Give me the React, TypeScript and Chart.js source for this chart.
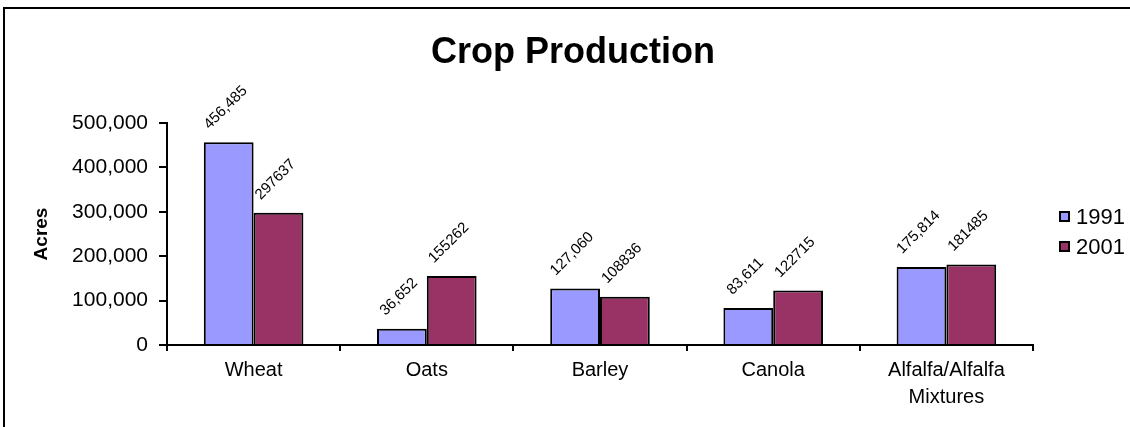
import React, { useEffect, useRef } from 'react';
import { Chart, registerables } from 'chart.js';

Chart.register(...registerables);

const chartTitle = 'Crop Production';
const yAxisTitle = 'Acres';
const categories: (string | string[])[] = ['Wheat', 'Oats', 'Barley', 'Canola', ['Alfalfa/Alfalfa', 'Mixtures']];
const seriesNames = ['1991', '2001'];
const acres1991 = [456485, 36652, 127060, 83611, 175814];
const acres2001 = [297637, 155262, 108836, 122715, 181485];
const labelUsesCommas = [true, false];
const seriesColors = ['#9999FF', '#993366'];
const yMin = 0;
const yMax = 500000;
const yStep = 100000;

const FONT = '"Liberation Sans", Arial, sans-serif';
const W = 1130;
const H = 427;

const fmt = (v: number) => v.toLocaleString('en-US');

const decorPlugin = {
  id: 'decor',
  afterDraw(chart: any) {
    const ctx = chart.ctx as CanvasRenderingContext2D;
    ctx.save();
    // outer frame (left + top edges visible)
    ctx.strokeStyle = '#000';
    ctx.lineWidth = 2;
    ctx.beginPath();
    ctx.moveTo(4, H + 2);
    ctx.lineTo(4, 8);
    ctx.lineTo(W + 2, 8);
    ctx.stroke();

    // title
    ctx.fillStyle = '#000';
    ctx.font = `bold 36px ${FONT}`;
    ctx.textAlign = 'center';
    ctx.textBaseline = 'alphabetic';
    ctx.fillText(chartTitle, 573, 63);

    // legend
    ctx.font = `22px ${FONT}`;
    ctx.textAlign = 'left';
    ctx.textBaseline = 'middle';
    seriesNames.forEach((name, i) => {
      const cy = 217 + i * 30;
      ctx.fillStyle = seriesColors[i];
      ctx.fillRect(1060, cy - 5, 9, 9);
      ctx.strokeStyle = '#000';
      ctx.lineWidth = 2;
      ctx.strokeRect(1060, cy - 5, 9, 9);
      ctx.fillStyle = '#000';
      ctx.fillText(name, 1076, cy + 1);
    });

    // data labels, rotated 45 degrees
    ctx.font = `15px ${FONT}`;
    ctx.textAlign = 'center';
    ctx.textBaseline = 'middle';
    chart.data.datasets.forEach((ds: any, di: number) => {
      const meta = chart.getDatasetMeta(di);
      meta.data.forEach((el: any, i: number) => {
        const v = ds.data[i] as number;
        const txt = labelUsesCommas[di] ? fmt(v) : String(v);
        const w = ctx.measureText(txt).width;
        const side = (w + 10) / Math.SQRT2;
        const cx = el.x - 3;
        const cy = el.y - 12 - side / 2;
        ctx.save();
        ctx.translate(cx, cy);
        ctx.rotate(-Math.PI / 4);
        ctx.fillStyle = '#000';
        ctx.fillText(txt, 0, 0);
        ctx.restore();
      });
    });
    ctx.restore();
  },
};

export default function App() {
  const ref = useRef<HTMLCanvasElement | null>(null);
  useEffect(() => {
    if (!ref.current) return;
    const chart = new Chart(ref.current, {
      type: 'bar',
      data: {
        labels: categories as any,
        datasets: [
          {
            label: seriesNames[0],
            data: acres1991,
            backgroundColor: seriesColors[0],
            borderColor: '#000',
            borderWidth: 2,
          },
          {
            label: seriesNames[1],
            data: acres2001,
            backgroundColor: seriesColors[1],
            borderColor: '#000',
            borderWidth: 2,
          },
        ],
      },
      options: {
        responsive: false,
        animation: false,
        devicePixelRatio: 1,
        datasets: { bar: { categoryPercentage: 0.575, barPercentage: 1 } },
        layout: { padding: { top: 123, right: 97, left: 0, bottom: 0 } },
        plugins: {
          legend: { display: false },
          title: { display: false },
          tooltip: { enabled: false },
        },
        scales: {
          x: {
            grid: {
              display: true,
              drawOnChartArea: false,
              drawTicks: true,
              tickLength: 6,
              color: '#000',
              lineWidth: 2,
              offset: true,
            },
            border: { display: true, color: '#000', width: 2 },
            ticks: {
              color: '#000',
              font: { family: FONT, size: 20, lineHeight: 1.35 },
              padding: 6,
              maxRotation: 0,
              autoSkip: false,
            },
            afterFit(scale: any) {
              scale.height = 82;
            },
          },
          y: {
            min: yMin,
            max: yMax,
            grid: {
              display: true,
              drawOnChartArea: false,
              drawTicks: true,
              tickLength: 8,
              color: '#000',
              lineWidth: 2,
            },
            border: { display: true, color: '#000', width: 2 },
            ticks: {
              stepSize: yStep,
              color: '#000',
              font: { family: FONT, size: 21 },
              padding: 11,
              callback: (v: any) => fmt(Number(v)),
            },
            title: {
              display: true,
              text: yAxisTitle,
              color: '#000',
              font: { family: FONT, size: 19, weight: 'bold' },
              padding: { top: 30, bottom: 0 },
            },
            afterFit(scale: any) {
              scale.width = 167;
            },
          },
        },
      },
      plugins: [decorPlugin],
    } as any);
    return () => chart.destroy();
  }, []);
  return (
    <div style={{ position: 'fixed', left: 0, top: 0, width: W, height: H, background: '#fff' }}>
      <canvas ref={ref} width={W} height={H} style={{ display: 'block', width: W, height: H }} />
    </div>
  );
}
